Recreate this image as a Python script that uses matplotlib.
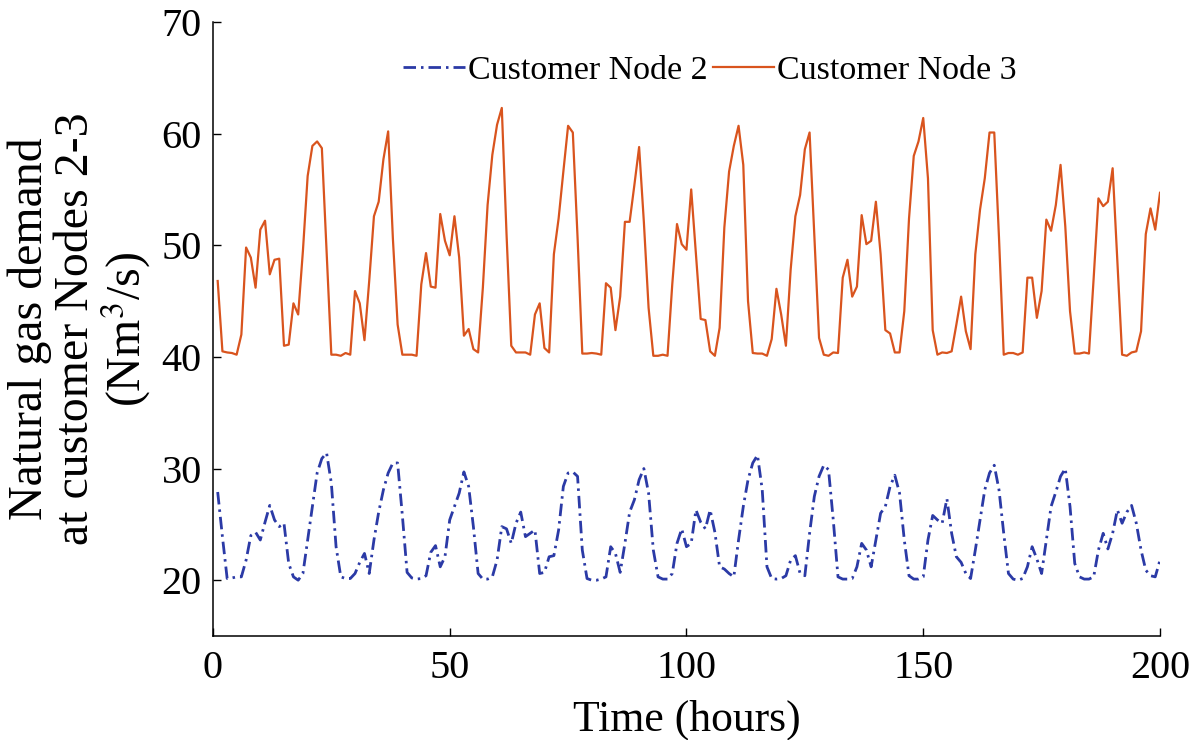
import numpy as np
import matplotlib.pyplot as plt

plt.rcParams["font.family"] = ["Liberation Serif", "DejaVu Serif"]
plt.rcParams["mathtext.fontset"] = "stix"

hours = np.arange(1, 201)

node3 = [
    46.8, 40.5, 40.4, 40.35, 40.2, 42.0, 49.8, 48.9, 46.2, 51.4,
    52.2, 47.4, 48.7, 48.8, 41.0, 41.1, 44.8, 43.8, 49.5, 56.2,
    58.9, 59.3, 58.7, 49.5, 40.2, 40.2, 40.1, 40.35, 40.2, 45.9,
    44.8, 41.5, 46.8, 52.6, 53.9, 57.7, 60.2, 50.6, 42.9, 40.2,
    40.2, 40.2, 40.1, 46.5, 49.3, 46.3, 46.2, 52.8, 50.4, 49.1,
    52.6, 48.9, 41.9, 42.5, 40.7, 40.4, 46.2, 53.6, 58.1, 60.8,
    62.3, 51.0, 41.0, 40.4, 40.4, 40.4, 40.2, 43.8, 44.8, 40.8,
    40.4, 49.2, 52.4, 56.6, 60.7, 60.1, 50.7, 40.3, 40.3, 40.35,
    40.3, 40.2, 46.6, 46.2, 42.4, 45.4, 52.1, 52.1, 55.4, 58.8,
    52.1, 44.4, 40.1, 40.1, 40.2, 40.1, 46.5, 51.9, 50.1, 49.6,
    55.0, 49.2, 43.4, 43.3, 40.5, 40.1, 42.6, 51.6, 56.6, 58.9,
    60.7, 57.2, 45.0, 40.35, 40.3, 40.3, 40.1, 41.6, 46.1, 43.8,
    41.0, 47.8, 52.6, 54.5, 58.6, 60.1, 51.0, 41.7, 40.2, 40.1,
    40.4, 40.35, 47.1, 48.7, 45.4, 46.3, 52.7, 50.1, 50.4, 53.9,
    49.2, 42.4, 42.1, 40.4, 40.4, 44.1, 52.4, 58.0, 59.3, 61.4,
    56.0, 42.4, 40.2, 40.4, 40.35, 40.5, 42.9, 45.4, 42.3, 40.7,
    49.2, 53.2, 56.0, 60.1, 60.1, 50.7, 40.2, 40.35, 40.35, 40.2,
    40.4, 47.1, 47.1, 43.5, 45.9, 52.3, 51.3, 53.6, 57.2, 51.7,
    44.1, 40.3, 40.3, 40.4, 40.3, 47.1, 54.2, 53.5, 53.9, 56.9,
    48.6, 40.2, 40.1, 40.4, 40.5, 42.3, 51.0, 53.3, 51.4, 54.7,
]

node2 = [
    27.9, 23.9, 20.15, 20.2, 20.3, 20.3, 21.8, 24.0, 24.3, 23.6,
    25.2, 26.7, 25.4, 24.8, 25.1, 21.5, 20.3, 20.0, 20.6, 23.6,
    26.6, 29.6, 30.9, 31.4, 28.7, 23.0, 20.3, 20.15, 20.15, 20.6,
    21.6, 22.4, 20.6, 23.6, 26.1, 28.1, 29.6, 30.5, 30.5, 25.8,
    20.7, 20.2, 20.1, 20.15, 20.4, 22.5, 23.1, 21.2, 22.1, 25.4,
    26.6, 27.8, 29.7, 28.4, 24.8, 20.6, 20.1, 20.1, 20.3, 21.8,
    24.8, 24.6, 23.3, 25.1, 26.1, 23.9, 24.2, 24.5, 20.6, 20.7,
    22.1, 22.2, 24.5, 28.4, 29.6, 29.7, 29.3, 22.7, 20.15, 20.0,
    20.0, 20.1, 20.3, 23.0, 22.4, 20.7, 23.3, 26.1, 27.2, 29.0,
    30.0, 27.8, 22.7, 20.3, 20.1, 20.1, 20.6, 23.3, 24.6, 23.0,
    23.3, 26.3, 25.2, 24.6, 26.3, 24.3, 21.2, 21.0, 20.6, 20.3,
    23.6, 26.6, 29.0, 30.5, 31.2, 28.1, 21.2, 20.15, 20.1, 20.15,
    20.4, 21.8, 22.2, 20.6, 20.4, 24.2, 27.5, 29.3, 30.3, 29.9,
    25.4, 20.3, 20.1, 20.1, 20.15, 21.2, 23.3, 22.7, 21.2, 23.6,
    26.0, 26.6, 28.4, 29.4, 27.8, 23.6, 20.4, 20.1, 20.1, 20.3,
    23.6, 25.8, 25.4, 25.1, 27.3, 24.2, 22.1, 21.6, 20.6, 20.15,
    22.7, 25.4, 28.1, 29.6, 30.3, 28.1, 24.2, 20.6, 20.1, 20.0,
    20.15, 21.2, 23.0, 21.9, 20.6, 23.6, 26.6, 27.9, 29.3, 30.0,
    26.6, 21.5, 20.3, 20.1, 20.1, 20.3, 22.7, 24.2, 22.8, 24.2,
    26.3, 25.1, 26.1, 26.7, 25.1, 22.7, 20.9, 20.4, 20.3, 21.8,
]

labels = ["Customer Node 2", "Customer Node 3"]
x_ticks = [0, 50, 100, 150, 200]
y_ticks = [20, 30, 40, 50, 60, 70]

BLUE = "#2b3aa6"
ORANGE = "#d9541e"

fig = plt.figure(figsize=(11.95, 7.4), dpi=100)
ax = fig.add_axes([0.1782, 0.1405, 0.7925, 0.8298])

ax.plot(hours, node2, color=BLUE, linewidth=2.0,
        linestyle=(0, (4.5, 1.8, 0.9, 1.8)), label=labels[0])
ax.plot(hours, node3, color=ORANGE, linewidth=1.6, label=labels[1])

ax.set_xlim(0, 200)
ax.set_ylim(15, 70)
ax.set_xticks(x_ticks)
ax.set_yticks(y_ticks)
ax.tick_params(direction="in", length=6, width=1, labelsize=29, pad=8)
ax.tick_params(axis="x", pad=10)

for side in ("top", "right"):
    ax.spines[side].set_visible(False)
for side in ("left", "bottom"):
    ax.spines[side].set_linewidth(1.1)

ax.set_xlabel("Time (hours)", fontsize=31.5, labelpad=9)
ax.set_ylabel("Natural gas demand\nat customer Nodes 2-3\n(Nm$^3$/s)",
              fontsize=34.5, labelpad=6, linespacing=1.05)

ax.legend(loc="upper center", bbox_to_anchor=(0.525, 0.985), ncol=2,
          frameon=False, fontsize=24.5, handlelength=1.8, handletextpad=0.1,
          columnspacing=0.15, borderaxespad=0.3)

fig.savefig("out.png", dpi=100)
